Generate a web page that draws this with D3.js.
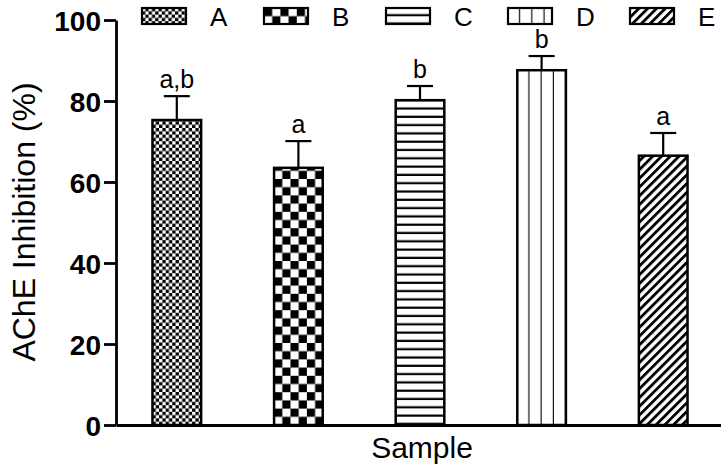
<!DOCTYPE html>
<html>
<head>
<meta charset="utf-8">
<script src="https://cdn.jsdelivr.net/npm/d3@7"></script>
<style>
  body { margin: 0; background: #fff; }
  text { font-family: "Liberation Sans", Arial, sans-serif; fill: #000; }
</style>
</head>
<body>
<svg width="721" height="468"></svg>
<script>
// chart values
const samples = ['A', 'B', 'C', 'D', 'E'];
const inhibition = [75.3, 63.5, 80.2, 87.6, 66.5];
const sem = [5.9, 6.6, 3.5, 3.5, 5.6];
const letters = ['a,b', 'a', 'b', 'b', 'a'];
const patterns = ['fineCheck', 'check', 'hlines', 'vlines', 'diag'];
const yTicks = [0, 20, 40, 60, 80, 100];

let svg = d3.select("svg"),
    width = +svg.attr("width"),
    height = +svg.attr("height");

let y = d3.scaleLinear().domain([0, 100]).range([425, 20]);
let x = d3.scaleBand().domain(samples).range([116, 724])
    .paddingInner(0.6).paddingOuter(0.3);
let legendX = d3.scalePoint().domain(samples).range([142, 630]);

let defs = svg.append("defs");

// build one pattern tile anchored at (ox, oy)
function makePattern(id, type, ox, oy) {
    let p = defs.append("pattern")
        .attr("id", id)
        .attr("patternUnits", "userSpaceOnUse")
        .attr("x", ox).attr("y", oy);
    if (type === 'fineCheck') {
        let c = 3.3;
        p.attr("width", 2 * c).attr("height", 2 * c);
        p.append("rect").attr("width", 2 * c).attr("height", 2 * c).attr("fill", "#000");
        p.append("rect").attr("width", c).attr("height", c).attr("fill", "#fff");
        p.append("rect").attr("x", c).attr("y", c).attr("width", c).attr("height", c).attr("fill", "#fff");
    } else if (type === 'check') {
        let c = 8.2;
        p.attr("width", 2 * c).attr("height", 2 * c);
        p.append("rect").attr("width", 2 * c).attr("height", 2 * c).attr("fill", "#fff");
        p.append("rect").attr("width", c).attr("height", c).attr("fill", "#000");
        p.append("rect").attr("x", c).attr("y", c).attr("width", c).attr("height", c).attr("fill", "#000");
    } else if (type === 'hlines') {
        let s = 8.3;
        p.attr("width", 10).attr("height", s);
        p.append("rect").attr("width", 10).attr("height", s).attr("fill", "#fff");
        p.append("rect").attr("y", s - 2.2).attr("width", 10).attr("height", 2.2).attr("fill", "#000");
    } else if (type === 'vlines') {
        let s = 12.2;
        p.attr("width", s).attr("height", 10);
        p.append("rect").attr("width", s).attr("height", 10).attr("fill", "#fff");
        p.append("rect").attr("x", s - 1.1).attr("width", 2.2).attr("height", 10).attr("fill", "#000");
    } else if (type === 'diag') {
        let s = 6.2;
        p.attr("width", s).attr("height", 10)
            .attr("patternTransform", "rotate(45)");
        p.append("rect").attr("width", s).attr("height", 10).attr("fill", "#fff");
        p.append("rect").attr("width", 2.8).attr("height", 10).attr("fill", "#000");
    }
}

// bars
samples.forEach(function (s, i) {
    makePattern("bar" + s, patterns[i], x(s), y(0));
});

svg.append("g")
    .selectAll("rect")
    .data(samples)
    .enter().append("rect")
    .attr("x", function (d) { return x(d); })
    .attr("y", function (d, i) { return y(inhibition[i]); })
    .attr("width", x.bandwidth())
    .attr("height", function (d, i) { return y(0) - y(inhibition[i]); })
    .attr("fill", function (d) { return "url(#bar" + d + ")"; })
    .attr("stroke", "#000")
    .attr("stroke-width", 2.5);

// upper error bars
let err = svg.append("g").attr("stroke", "#000").attr("stroke-width", 2.2);
samples.forEach(function (s, i) {
    let cx = x(s) + x.bandwidth() / 2;
    let top = y(inhibition[i] + sem[i]);
    err.append("line")
        .attr("x1", cx).attr("x2", cx)
        .attr("y1", y(inhibition[i])).attr("y2", top);
    err.append("line")
        .attr("x1", cx - 13).attr("x2", cx + 13)
        .attr("y1", top).attr("y2", top);
});

// significance letters
svg.append("g")
    .selectAll("text")
    .data(samples)
    .enter().append("text")
    .attr("x", function (d) { return x(d) + x.bandwidth() / 2; })
    .attr("y", function (d, i) { return y(inhibition[i] + sem[i]) - 8; })
    .attr("text-anchor", "middle")
    .style("font-size", "25px")
    .text(function (d, i) { return letters[i]; });

// y axis
let yAxis = svg.append("g")
    .attr("transform", "translate(116,0)")
    .call(d3.axisLeft(y).tickValues(yTicks).tickSize(12).tickSizeOuter(0).tickPadding(3));
yAxis.select(".domain").attr("stroke-width", 2.8);
yAxis.selectAll(".tick line").attr("stroke-width", 2.8);
yAxis.selectAll(".tick text")
    .style("font-family", "'Liberation Sans', Arial, sans-serif")
    .style("font-size", "28px")
    .style("font-weight", "bold")
    .attr("dy", "0.36em");

// x axis (line only)
let xAxis = svg.append("g")
    .attr("transform", "translate(0," + y(0) + ")")
    .call(d3.axisBottom(x).tickValues([]).tickSizeOuter(0));
xAxis.select(".domain").attr("stroke-width", 2.8);

// axis titles
svg.append("text")
    .attr("transform", "translate(35,222) rotate(-90)")
    .attr("text-anchor", "middle")
    .style("font-size", "32px")
    .text("AChE Inhibition (%)");

svg.append("text")
    .attr("x", 422)
    .attr("y", 458)
    .attr("text-anchor", "middle")
    .style("font-size", "30px")
    .text("Sample");

// legend
let legend = svg.append("g");
samples.forEach(function (s, i) {
    let lx = legendX(s);
    makePattern("leg" + s, patterns[i], lx, 8);
    legend.append("rect")
        .attr("x", lx).attr("y", 8)
        .attr("width", 44).attr("height", 16)
        .attr("fill", "url(#leg" + s + ")")
        .attr("stroke", "#000")
        .attr("stroke-width", 2.2);
    legend.append("text")
        .attr("x", lx + 68)
        .attr("y", 26)
        .style("font-size", "26px")
        .text(s);
});
</script>
</body>
</html>
